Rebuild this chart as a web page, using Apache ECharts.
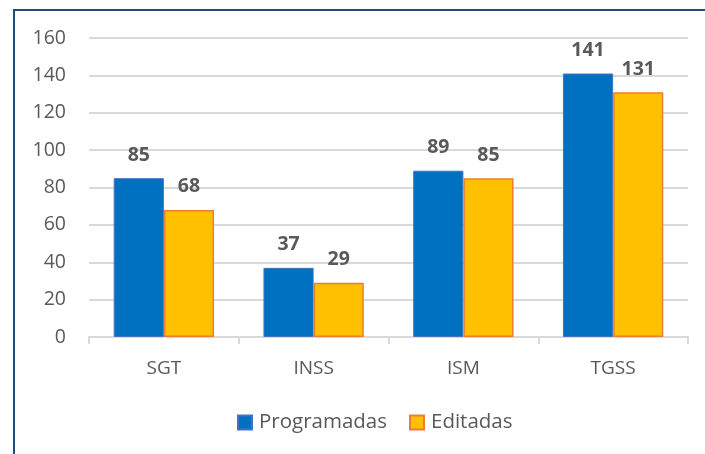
<!DOCTYPE html>
<html>
<head>
<meta charset="utf-8">
<script src="https://cdn.jsdelivr.net/npm/echarts@6/dist/echarts.min.js"></script>
<style>
  html, body { margin: 0; padding: 0; background: #fff; }
  #frame { position: absolute; left: 13px; top: 9px; width: 705px; height: 460px;
           border-left: 2px solid #1F4E79; border-top: 2px solid #1F4E79; }
  #main { position: absolute; left: 0; top: 0; width: 705px; height: 454px; }
</style>
</head>
<body>
<div id="frame"></div>
<div id="main"></div>
<script>
// datos del gráfico
var categorias = ['SGT', 'INSS', 'ISM', 'TGSS'];
var programadas = [85, 37, 89, 141];
var editadas = [68, 29, 85, 131];
var nombres = ['Programadas', 'Editadas'];

var myChart = echarts.init(document.getElementById('main'));

var etiqueta = {
    show: true,
    position: 'top',
    distance: 13,
    color: '#595959',
    fontSize: 19.5,
    fontWeight: 'bold',
    fontFamily: 'Open Sans'
};

var option = {
    backgroundColor: 'transparent',
    textStyle: { fontFamily: 'Open Sans' },
    grid: { left: 89, right: 17, top: 38, bottom: 117 },
    legend: {
        data: nombres,
        bottom: 16,
        left: 232,
        icon: 'rect',
        itemWidth: 14,
        itemHeight: 14,
        itemGap: 22,
        textStyle: { color: '#595959', fontSize: 20.5, fontFamily: 'Open Sans', padding: [0, 0, 0, 2] }
    },
    xAxis: {
        type: 'category',
        data: categorias,
        axisLine: { lineStyle: { color: '#D9D9D9', width: 2 } },
        axisTick: { show: true, length: 7, lineStyle: { color: '#D9D9D9', width: 2 } },
        axisLabel: { color: '#595959', fontSize: 19, margin: 22 }
    },
    yAxis: {
        type: 'value',
        min: 0,
        max: 160,
        interval: 20,
        axisLine: { show: false },
        axisTick: { show: false },
        axisLabel: { color: '#595959', fontSize: 19.5, margin: 23 },
        splitLine: { lineStyle: { color: '#D9D9D9', width: 2 } }
    },
    series: [
        {
            name: nombres[0],
            type: 'bar',
            data: programadas,
            barGap: '0%',
            barCategoryGap: '33%',
            itemStyle: { color: '#0070C0', borderColor: '#4472C4', borderWidth: 1 },
            label: etiqueta
        },
        {
            name: nombres[1],
            type: 'bar',
            data: editadas,
            itemStyle: { color: '#FFC000', borderColor: '#ED7D31', borderWidth: 1.5 },
            label: etiqueta
        }
    ]
};
myChart.setOption(option);
</script>
</body>
</html>
